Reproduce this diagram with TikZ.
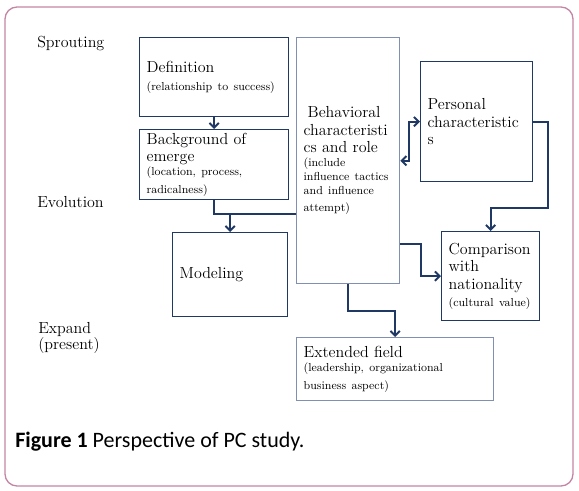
\documentclass[tikz,border=0pt]{standalone}
\usepackage{fontspec}
\newfontfamily\capfont{Carlito}
\usepackage{xcolor}
\usepackage{tikz}
\usetikzlibrary{arrows.meta}
\definecolor{boxnavy}{RGB}{31,56,100}
\definecolor{boxslate}{RGB}{128,143,178}
\definecolor{framepink}{RGB}{196,132,164}
\newlength{\px}\setlength{\px}{0.75pt}
\newcommand{\sm}{\fontsize{8.7}{10.5}\selectfont}

\begin{document}
\begin{tikzpicture}[x=0.75pt, y=-0.75pt,
        stage/.style={draw=boxnavy, line width=1pt, anchor=north west, align=left, inner xsep=7\px, inner ysep=2pt, font=\fontsize{12}{13}\selectfont},
        phase/.style={anchor=base west, inner sep=0pt, align=left, font=\fontsize{12}{12.5}\selectfont},
        conn/.style={draw=boxnavy, line width=1.5pt},
        arr/.style={conn, -{Straight Barb[length=3.5pt,width=7pt]}},
        arrboth/.style={conn, {Straight Barb[length=3.5pt,width=7pt]}-{Straight Barb[length=3.5pt,width=7pt]}}]
        \useasboundingbox (0,0) rectangle (579,490);
        \draw[framepink, line width=1pt, rounded corners=9pt] (5,7) rectangle (573,486);

        \node[phase] at (37,47)   (sprout) {Sprouting};
        \node[phase] at (37,207)  (evol) {Evolution};
        \node[phase, anchor=west] at (38,338)  (expand) {Expand\\(present)};

        \node[stage, text width=135\px, minimum height=79\px] at (139,37)   (def) {Definition\\{\sm(relationship to success)}};
        \node[stage, text width=135\px, minimum height=70\px] at (139,129)  (bg) {Background of\\emerge\\{\sm(location, process,\\radicalness)}};
        \node[stage, text width=101\px, minimum height=84\px] at (172,232)  (model) {Modeling};
        \node[stage, draw=boxslate, text width=89\px, minimum height=246\px] at (296,37)  (behav) {\hspace*{3pt}Behavioral\\characteristi\\cs and role\\{\sm(include\\influence tactics\\and influence\\attempt)}\\[16pt]};
        \node[stage, text width=98\px, minimum height=120\px] at (420,61)   (pers) {Personal\\characteristic\\s};
        \node[stage, text width=84\px, minimum height=89\px] at (441,231)   (comp) {Comparison\\with\\nationality\\{\sm(cultural value)}};
        \node[stage, draw=boxslate, text width=183\px, minimum height=63\px] at (296,337)  (ext) {Extended field\\{\sm(leadership, organizational\\business aspect)}\\[4pt]};

        \node[anchor=base west, inner sep=0pt, font=\capfont\fontsize{16.5}{19}\selectfont] at (15,447) (cap) {\textbf{Figure 1} Perspective of PC study.};

        % connectors
        \coordinate (mjoin) at ([yshift=18\px]model.north);
        \draw[arr] (def) -- (bg);
        \draw[arr] (bg.south) |- (mjoin) -- (model.north);
        \draw[conn] (behav.west |- mjoin) -- (mjoin);
        \draw[arrboth] (pers.west) -- ++(-11,0) |- (behav.east);
        \draw[arr] (pers.east) -- ++(15,0) -- ++(0,86) -| (comp.north);
        \draw[arr] (behav.south east) ++(0,-40) -- ++(21,0) |- (comp.west);
        \draw[arr] (behav.south) -- ++(0,27) -| (ext.north);
\end{tikzpicture}
\end{document}
